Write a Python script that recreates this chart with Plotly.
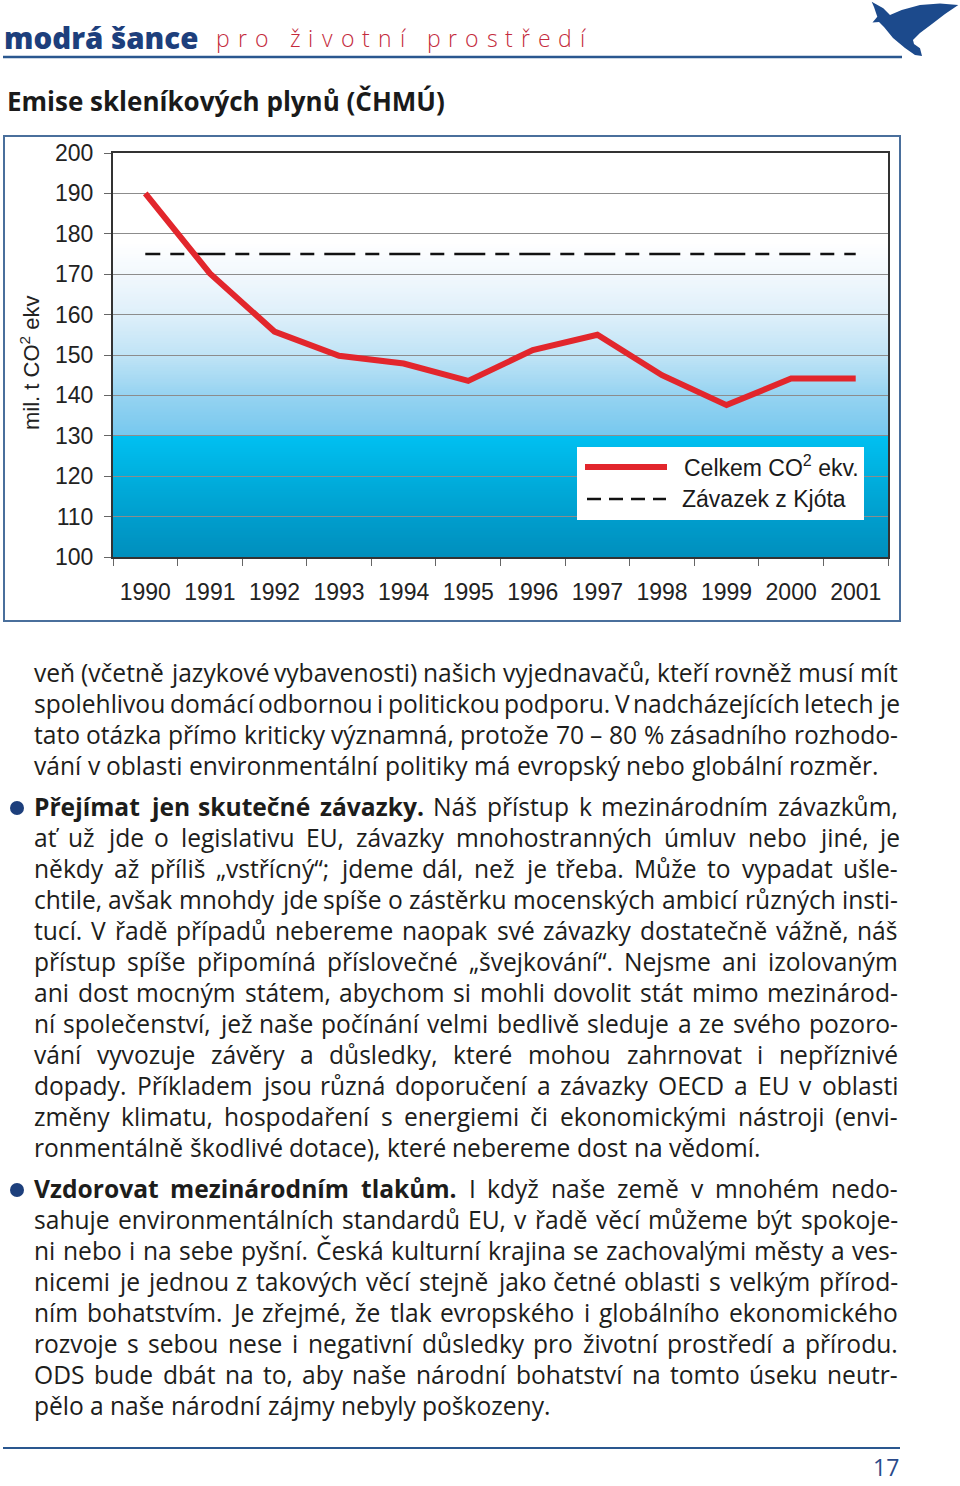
import glob
import os
import struct
import plotly.graph_objects as go

W, H = 960, 1486

# chart data
years = ["1990", "1991", "1992", "1993", "1994", "1995", "1996", "1997", "1998", "1999", "2000", "2001"]
celkem = [190.0, 170.2, 155.8, 149.8, 147.9, 143.6, 151.2, 155.0, 145.0, 137.6, 144.2, 144.2]
kjoto = [175, 175, 175, 175, 175, 175, 175, 175, 175, 175, 175, 175]
y_min, y_max, y_step = 100, 200, 10

header_blue = "modrá šance"
header_red = "pro životní prostředí"
title = "Emise skleníkových plynů (ČHMÚ)"
y_title = "mil. t CO<sup>2</sup> ekv"
legend_names = ["Celkem CO<sup>2</sup> ekv.", "Závazek z Kjóta"]
page_no = "17"

para1 = [
    "veň (včetně jazykové vybavenosti) našich vyjednavačů, kteří rovněž musí mít",
    "spolehlivou domácí odbornou i politickou podporu. V nadcházejících letech je",
    "tato otázka přímo kriticky významná, protože 70 – 80 % zásadního rozhodo-",
    "vání v oblasti environmentální politiky má evropský nebo globální rozměr.",
]
para2_head = "Přejímat jen skutečné závazky."
para2 = [
    "Náš přístup k mezinárodním závazkům,",
    "ať už jde o legislativu EU, závazky mnohostranných úmluv nebo jiné, je",
    "někdy až příliš „vstřícný“; jdeme dál, než je třeba. Může to vypadat ušle-",
    "chtile, avšak mnohdy jde spíše o zástěrku mocenských ambicí různých insti-",
    "tucí. V řadě případů nebereme naopak své závazky dostatečně vážně, náš",
    "přístup spíše připomíná příslovečné „švejkování“. Nejsme ani izolovaným",
    "ani dost mocným státem, abychom si mohli dovolit stát mimo mezinárod-",
    "ní společenství, jež naše počínání velmi bedlivě sleduje a ze svého pozoro-",
    "vání vyvozuje závěry a důsledky, které mohou zahrnovat i nepříznivé",
    "dopady. Příkladem jsou různá doporučení a závazky OECD a EU v oblasti",
    "změny klimatu, hospodaření s energiemi či ekonomickými nástroji (envi-",
    "ronmentálně škodlivé dotace), které nebereme dost na vědomí.",
]
para3_head = "Vzdorovat mezinárodním tlakům."
para3 = [
    "I když naše země v mnohém nedo-",
    "sahuje environmentálních standardů EU, v řadě věcí můžeme být spokoje-",
    "ni nebo i na sebe pyšní. Česká kulturní krajina se zachovalými městy a ves-",
    "nicemi je jednou z takových věcí stejně jako četné oblasti s velkým přírod-",
    "ním bohatstvím. Je zřejmé, že tlak evropského i globálního ekonomického",
    "rozvoje s sebou nese i negativní důsledky pro životní prostředí a přírodu.",
    "ODS bude dbát na to, aby naše národní bohatství na tomto úseku neutr-",
    "pělo a naše národní zájmy nebyly poškozeny.",
]

NAVY = "#1d3f7c"
RED = "#e2262c"
TXT = "#1d1d1b"


def X(x):
    return x / W


def Y(y):
    return 1 - y / H


# --- font widths, read from the installed font files so the text can be justified
def find_font(names):
    roots = ["/usr/share/fonts", "/usr/local/share/fonts", os.path.expanduser("~/.fonts"),
             os.path.expanduser("~/.local/share/fonts")]
    for n in names:
        for r in roots:
            hits = glob.glob(r + "/**/" + n, recursive=True)
            if hits:
                return hits[0]
    return None


def load_widths(path):
    data = open(path, "rb").read()
    ntab = struct.unpack(">H", data[4:6])[0]
    tab = {}
    for i in range(ntab):
        tag, cs, off, ln = struct.unpack(">4sIII", data[12 + 16 * i:28 + 16 * i])
        tab[tag.decode("latin1")] = off
    upem = struct.unpack(">H", data[tab["head"] + 18:tab["head"] + 20])[0]
    nhm = struct.unpack(">H", data[tab["hhea"] + 34:tab["hhea"] + 36])[0]
    hm = tab["hmtx"]
    adv = [struct.unpack(">H", data[hm + 4 * i:hm + 4 * i + 2])[0] for i in range(nhm)]
    c = tab["cmap"]
    n = struct.unpack(">H", data[c + 2:c + 4])[0]
    cmap = {}
    for i in range(n):
        pid, eid, off = struct.unpack(">HHI", data[c + 4 + 8 * i:c + 12 + 8 * i])
        if pid not in (0, 3):
            continue
        sub = c + off
        fmt = struct.unpack(">H", data[sub:sub + 2])[0]
        if fmt == 4:
            segx2 = struct.unpack(">H", data[sub + 6:sub + 8])[0]
            seg = segx2 // 2
            ends = struct.unpack(">%dH" % seg, data[sub + 14:sub + 14 + segx2])
            starts = struct.unpack(">%dH" % seg, data[sub + 16 + segx2:sub + 16 + 2 * segx2])
            deltas = struct.unpack(">%dh" % seg, data[sub + 16 + 2 * segx2:sub + 16 + 3 * segx2])
            ro = sub + 16 + 3 * segx2
            ros = struct.unpack(">%dH" % seg, data[ro:ro + segx2])
            for s in range(seg):
                for ch in range(starts[s], ends[s] + 1):
                    if ch == 0xFFFF:
                        continue
                    if ros[s] == 0:
                        g = (ch + deltas[s]) & 0xFFFF
                    else:
                        gi = ro + 2 * s + ros[s] + 2 * (ch - starts[s])
                        g = struct.unpack(">H", data[gi:gi + 2])[0]
                        if g:
                            g = (g + deltas[s]) & 0xFFFF
                    cmap.setdefault(ch, g)
        elif fmt == 12:
            ng = struct.unpack(">I", data[sub + 12:sub + 16])[0]
            for k in range(ng):
                sc, ec, sg = struct.unpack(">III", data[sub + 16 + 12 * k:sub + 28 + 12 * k])
                for ch in range(sc, min(ec, 0x2FFFF) + 1):
                    cmap.setdefault(ch, sg + ch - sc)

    def width(text):
        tot = 0
        for ch in text:
            g = cmap.get(ord(ch), 0)
            tot += adv[g] if g < nhm else adv[-1]
        return tot / upem
    return width


FAM = "Noto Sans"
w_reg = w_bold = None
for fam, regs, bolds in [
    ("Noto Sans", ["NotoSans-Regular.ttf", "NotoSans-Regular.otf"], ["NotoSans-Bold.ttf", "NotoSans-Bold.otf"]),
    ("Open Sans", ["OpenSans-Regular.ttf"], ["OpenSans-Bold.ttf"]),
    ("DejaVu Sans", ["DejaVuSans.ttf"], ["DejaVuSans-Bold.ttf"]),
]:
    fr, fb = find_font(regs), find_font(bolds)
    if fr and fb:
        try:
            w_reg, w_bold = load_widths(fr), load_widths(fb)
            FAM = fam
            break
        except Exception:
            pass
if w_reg is None:
    w_reg = lambda t: len(t) * 0.53
    w_bold = lambda t: len(t) * 0.58

TEXT_L, TEXT_R = 33, 897
# font size fitted on the (unjustified) last lines of the paragraphs
body_size = (819 + 744 + 525) / (w_reg(para1[-1]) + w_reg(para2[-1]) + w_reg(para3[-1]))

annotations = []
shapes = []


def put_words(words, y, justify, size):
    widths = [(w_bold(t) if b else w_reg(t)) * size for t, b in words]
    space = w_reg(" ") * size
    if justify and len(words) > 1:
        gap = max((TEXT_R - TEXT_L - sum(widths)) / (len(words) - 1), space * 0.5)
    else:
        gap = space
    x = TEXT_L
    for (t, b), wd in zip(words, widths):
        annotations.append(dict(
            x=X(x), y=Y(y - 0.12 * size), xref="paper", yref="paper", text=t, showarrow=False,
            xanchor="left", yanchor="middle", borderpad=0,
            font=dict(family=FAM, size=size, color=TXT, weight=700 if b else 400)))
        x += wd + gap


def put_para(lines, y0, head=None):
    for i, line in enumerate(lines):
        words = [(w, False) for w in line.split()]
        if i == 0 and head:
            words = [(w, True) for w in head.split()] + words
        put_words(words, y0 + 31 * i, i < len(lines) - 1, body_size)


put_para(para1, 675)
put_para(para2, 809, para2_head)
put_para(para3, 1191, para3_head)

for yb in (808, 1190):
    shapes.append(dict(type="circle", xref="paper", yref="paper", x0=X(10), x1=X(24), y0=Y(yb - 7),
                       y1=Y(yb + 7), fillcolor=NAVY, line=dict(width=0)))

# --- header
hb_size = min(189 / w_bold(header_blue), 30)
annotations.append(dict(x=X(3), y=Y(38), xref="paper", yref="paper", text=header_blue, showarrow=False,
                        xanchor="left", yanchor="middle", borderpad=0,
                        font=dict(family=FAM, size=hb_size, color=NAVY, weight=800)))
hr_size = 23
letters = list(header_red)
nat = sum(w_reg(ch) for ch in letters) * hr_size
track = (585 - 215 - nat) / (len(letters) - 1)
x = 215
for ch in letters:
    if ch != " ":
        annotations.append(dict(x=X(x), y=Y(38), xref="paper", yref="paper", text=ch, showarrow=False,
                                xanchor="left", yanchor="middle", borderpad=0,
                                font=dict(family=FAM, size=hr_size, color="#c42b3c", weight=300)))
    x += w_reg(ch) * hr_size + track

shapes.append(dict(type="line", xref="paper", yref="paper", x0=X(3), x1=X(902), y0=Y(57), y1=Y(57),
                   line=dict(color="#2a578f", width=2.5)))
bird = [(871.7, 1.7), (883.3, 8.3), (890, 15), (901.7, 10), (920, 5), (940, 3.5), (958.3, 5), (945, 14),
        (932, 24), (920, 33), (913, 40), (914, 44), (920, 48.3), (922, 56), (915, 55),
        (905, 48), (893, 38), (884, 27), (879, 22), (872.5, 22.5), (877.3, 16.7), (874, 7)]
path = "M" + " L".join("%.5f,%.5f" % (X(a), Y(b)) for a, b in bird) + " Z"
shapes.append(dict(type="path", xref="paper", yref="paper", path=path, fillcolor="#1c4a8c",
                   line=dict(width=0)))

t_size = min(450 / w_bold(title), 26)
annotations.append(dict(x=X(6), y=Y(101), xref="paper", yref="paper", text=title, showarrow=False,
                        xanchor="left", yanchor="middle", borderpad=0,
                        font=dict(family=FAM, size=t_size, color="#1a1a1a", weight=700)))

# --- footer
shapes.append(dict(type="line", xref="paper", yref="paper", x0=X(3), x1=X(900), y0=Y(1448), y1=Y(1448),
                   line=dict(color="#2a578f", width=2)))
annotations.append(dict(x=X(900), y=Y(1467), xref="paper", yref="paper", text=page_no, showarrow=False,
                        xanchor="right", yanchor="middle", borderpad=0,
                        font=dict(family=FAM, size=23, color="#2a4a8a")))

# --- chart frame and gradient background
shapes.append(dict(type="rect", xref="paper", yref="paper", x0=X(4), x1=X(900), y0=Y(136), y1=Y(621),
                   line=dict(color="#4a6f9c", width=2), fillcolor="rgba(0,0,0,0)"))

grad = [(100, (0, 143, 189)), (110, (0, 158, 205)), (120, (0, 175, 222)), (130, (0, 192, 241)),
        (130.01, (118, 200, 238)), (140, (150, 211, 241)), (150, (192, 228, 246)), (160, (222, 239, 250)),
        (170, (242, 248, 253)), (178, (255, 255, 255)), (200, (255, 255, 255))]


def grad_color(v):
    for (a, ca), (b, cb) in zip(grad[:-1], grad[1:]):
        if a <= v <= b:
            t = (v - a) / (b - a)
            return "rgb(%d,%d,%d)" % tuple(round(ca[k] + (cb[k] - ca[k]) * t) for k in range(3))
    return "white"


v = y_min
while v < y_max:
    # bands overlap a little so no seams show between them
    shapes.append(dict(type="rect", xref="x domain", yref="y", x0=0, x1=1, y0=v, y1=min(v + 0.8, y_max),
                       fillcolor=grad_color(v + 0.25), line=dict(width=0), layer="below"))
    v += 0.5

# --- legend (drawn as a box so the line samples keep their long length)
shapes.append(dict(type="rect", xref="paper", yref="paper", x0=X(577), x1=X(864), y0=Y(447), y1=Y(520),
                   fillcolor="white", line=dict(width=0)))
shapes.append(dict(type="line", xref="paper", yref="paper", x0=X(585), x1=X(667), y0=Y(467), y1=Y(467),
                   line=dict(color=RED, width=6)))
shapes.append(dict(type="line", xref="paper", yref="paper", x0=X(587), x1=X(666), y0=Y(499), y1=Y(499),
                   line=dict(color="#111", width=2.6, dash="14px,8px")))
for name, yy, xx in [(legend_names[0], 466, 683), (legend_names[1], 499, 681)]:
    annotations.append(dict(x=X(xx), y=Y(yy), xref="paper", yref="paper", text=name, showarrow=False,
                            xanchor="left", yanchor="middle", borderpad=0,
                            font=dict(family="Liberation Sans", size=23, color="#1a1a1a")))

annotations.append(dict(x=X(30), y=Y(363), xref="paper", yref="paper", text=y_title, showarrow=False,
                        textangle=-90, xanchor="center", yanchor="middle",
                        font=dict(family="Liberation Sans", size=22, color="#222")))

fig = go.Figure()
fig.add_trace(go.Scatter(x=years, y=kjoto, mode="lines", name=legend_names[1], hoverinfo="skip",
                         line=dict(color="#111", width=2.6, dash="15px,10px,14px,10px,16px,0px")))
fig.add_trace(go.Scatter(x=years, y=celkem, mode="lines", name=legend_names[0], hoverinfo="skip",
                         line=dict(color=RED, width=6)))

axis_font = dict(family="Liberation Sans", size=23, color="#222")
fig.update_layout(
    width=W, height=H, margin=dict(l=0, r=0, t=0, b=0),
    paper_bgcolor="white", plot_bgcolor="white", showlegend=False,
    shapes=shapes, annotations=annotations,
    xaxis=dict(domain=[X(113), X(888)], type="category", range=[-0.5, len(years) - 0.5],
               tickson="boundaries", ticks="outside",
               ticklen=7, tickcolor="#666", tickwidth=1, showline=True, linecolor="#333", linewidth=2,
               mirror=True, showgrid=False, tickfont=axis_font, ticklabelstandoff=13, automargin=False),
    yaxis=dict(domain=[Y(557), Y(153)], range=[y_min, y_max], dtick=y_step, ticks="outside",
               ticklen=7, tickcolor="#666", tickwidth=1, showline=True, linecolor="#333", linewidth=2,
               mirror=True, showgrid=True, gridcolor="#8c8c8c", gridwidth=1, zeroline=False,
               tickfont=axis_font, ticklabelstandoff=6, automargin=False),
)

# the page has no body margin, so the figure starts at the window's top-left corner
fig.write_html("out.html", config={"displayModeBar": False},
               post_script="document.body.style.margin='0';")
